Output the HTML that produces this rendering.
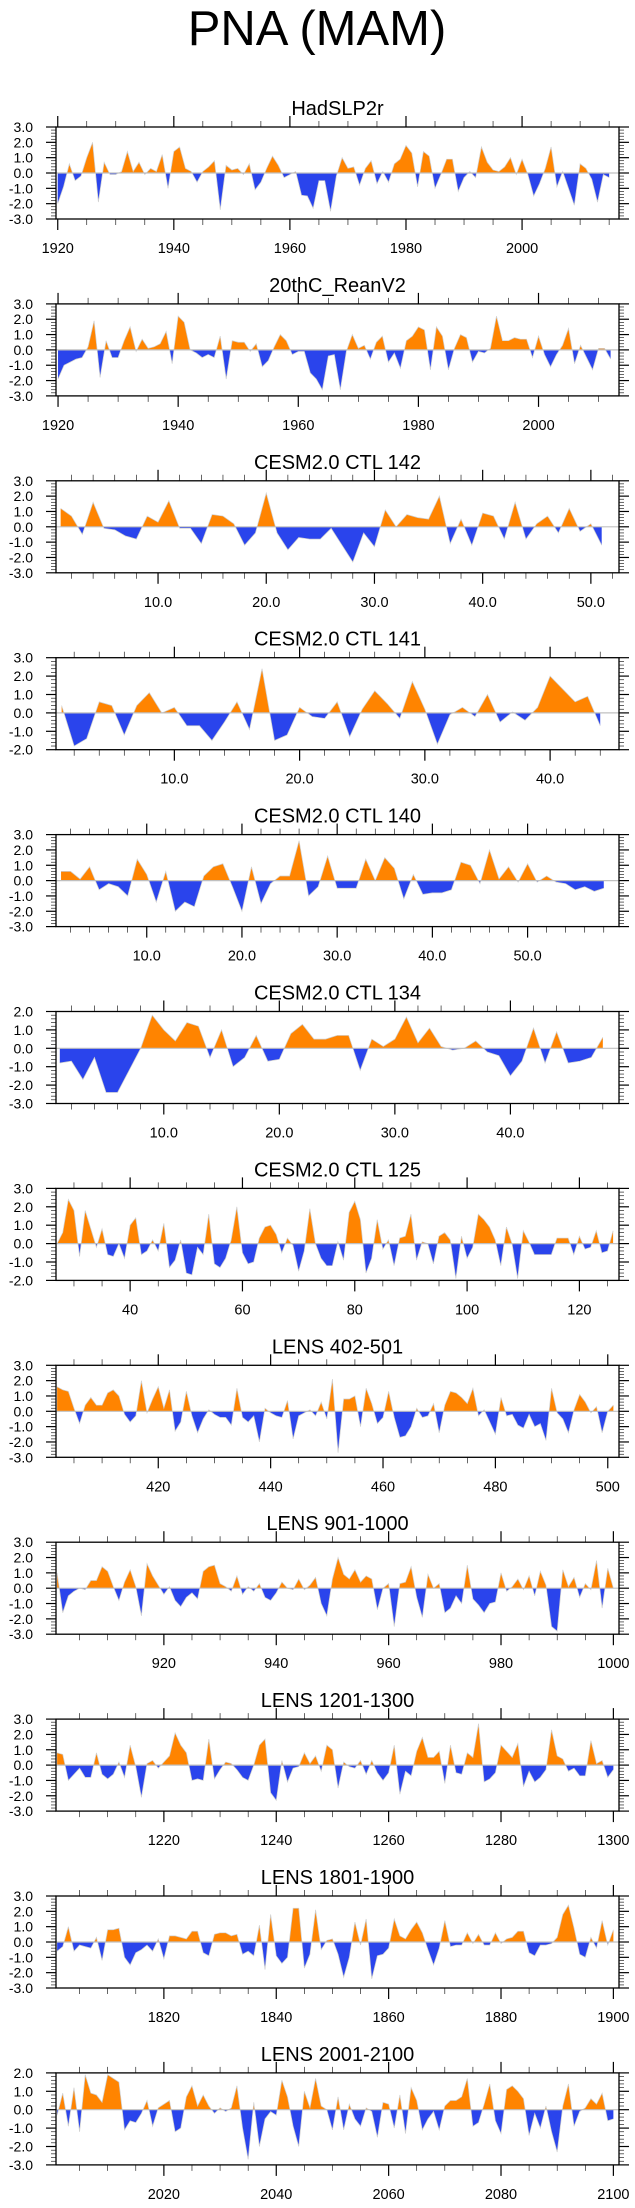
<!DOCTYPE html>
<html><head><meta charset="utf-8"><title>PNA (MAM)</title>
<style>
html,body{margin:0;padding:0;background:#fff;}
svg{display:block;font-family:"Liberation Sans",Arial,sans-serif;}
</style></head>
<body>
<svg id="chart" width="635" height="2208" viewBox="0 0 635 2208" xmlns="http://www.w3.org/2000/svg">
<text x="317" y="45" font-size="49" text-anchor="middle" fill="#000">PNA (MAM)</text>
</svg>
<script>
// ---- data ----
const titles = ["HadSLP2r","20thC_ReanV2","CESM2.0 CTL 142","CESM2.0 CTL 141","CESM2.0 CTL 140","CESM2.0 CTL 134","CESM2.0 CTL 125","LENS 402-501","LENS 901-1000","LENS 1201-1300","LENS 1801-1900","LENS 2001-2100"];
const starts = [1920,1920,1,1,1,1,27,402,901,1201,1801,2001];
const s1 = [-2.0,-0.9,0.6,-0.5,-0.2,1.0,2.0,-1.9,0.7,-0.1,
 -0.1,0.1,1.4,0.1,0.7,-0.1,0.3,0.1,1.2,-1.0,
 1.4,1.7,0.3,0.1,-0.6,0.1,0.4,0.8,-2.4,0.5,
 0.2,0.3,-0.1,0.6,-1.1,-0.6,0.3,1.1,0.5,-0.3,
 -0.1,0.1,-1.45,-1.5,-2.3,-0.5,-0.5,-2.5,-0.2,1.0,
 0.3,0.4,-0.8,0.3,0.8,-0.7,0.1,-0.6,0.6,0.9,
 1.8,1.3,-0.9,1.4,1.1,-1.0,-0.1,0.9,0.9,-1.2,
 -0.3,0.1,-0.3,1.7,0.7,0.2,0.1,0.4,1.0,-0.1,
 0.9,-0.1,-1.5,-0.7,0.3,1.7,-0.9,0.1,-1.0,-2.1,
 0.6,0.3,-0.4,-1.9,-0.1,-0.3];
const s2 = [-1.9,-1.0,-0.8,-0.6,-0.5,0.2,1.9,-1.8,0.6,-0.5,
 -0.5,0.6,1.5,-0.1,0.7,0.1,0.2,0.4,1.2,-0.9,
 2.2,1.8,0.0,-0.2,-0.5,-0.3,-0.5,0.9,-1.9,0.6,
 0.5,0.5,-0.1,0.4,-1.1,-0.7,0.2,1.0,0.6,-0.3,
 -0.1,-0.1,-1.5,-1.9,-2.6,-0.4,-0.3,-2.6,-0.1,1.0,
 0.1,0.3,-0.6,0.5,0.9,-0.8,-0.2,-1.2,0.6,0.9,
 1.5,1.3,-1.3,1.5,0.9,-1.3,0.1,1.0,0.8,-0.8,
 -0.1,-0.2,0.1,2.2,0.6,0.6,0.8,0.7,0.7,-0.5,
 0.9,-0.3,-1.1,-0.3,0.3,1.4,-0.9,0.3,-0.5,-1.3,
 0.1,0.1,-0.6];
const s3 = [1.2,0.7,-0.5,1.6,-0.1,-0.2,-0.6,-0.8,0.7,0.3,
 1.7,-0.1,-0.1,-1.1,0.8,0.7,0.2,-1.2,-0.4,2.2,
 -0.4,-1.5,-0.7,-0.8,-0.8,-0.1,-1.2,-2.3,-0.4,-1.3,
 1.1,0.0,0.8,0.6,0.5,2.0,-1.1,0.5,-1.2,0.9,
 0.7,-0.8,1.6,-0.8,0.2,0.7,-0.4,1.2,-0.3,0.2,-1.2];
const s4 = [0.4,-1.8,-1.4,0.6,0.4,-1.2,0.4,1.1,0.0,0.3,
 -0.7,-0.7,-1.5,-0.5,0.6,-0.9,2.4,-1.5,-1.2,0.3,
 -0.2,-0.3,0.6,-1.3,0.2,1.2,0.5,-0.3,1.7,0.2,
 -1.7,-0.1,0.3,-0.2,1.0,-0.5,0.05,-0.4,0.3,2.0,
 1.3,0.6,0.9,-0.7];
const s5 = [0.6,0.6,0.1,0.9,-0.6,-0.2,-0.4,-1.0,1.4,0.4,
 -1.4,0.6,-2.0,-1.4,-1.7,0.3,0.9,1.1,-0.4,-2.0,
 0.9,-1.5,-0.2,0.3,0.3,2.6,-1.0,-0.4,1.6,-0.5,
 -0.5,-0.5,1.4,0.0,1.5,0.8,-1.2,0.4,-0.9,-0.8,
 -0.8,-0.6,1.2,1.0,-0.2,2.0,0.1,0.9,-0.1,1.1,
 -0.1,0.3,-0.1,-0.2,-0.6,-0.4,-0.7,-0.5];
const s6 = [-0.8,-0.7,-1.7,-0.5,-2.4,-2.4,-1.2,0.0,1.8,1.0,
 0.4,1.4,1.2,-0.5,1.0,-1.0,-0.5,0.7,-0.7,-0.6,
 0.8,1.3,0.5,0.5,0.7,0.7,-1.2,0.5,0.1,0.5,
 1.7,0.3,1.1,0.1,-0.1,0.0,0.4,-0.2,-0.4,-1.5,
 -0.7,1.1,-0.8,0.9,-0.8,-0.7,-0.5,0.6];
const s7 = [0.0,0.6,2.4,1.8,-0.7,1.8,0.8,-0.2,0.8,-0.6,
 -0.7,0.0,-0.8,1.0,1.4,-0.6,-0.4,0.2,-0.4,1.1,
 -1.3,-0.9,0.2,-1.6,-1.7,-0.2,-0.6,1.6,-1.1,-1.3,
 -0.8,0.2,2.0,-0.5,-1.1,-1.0,0.3,0.9,1.0,0.5,
 -0.5,0.3,-0.1,-1.5,-0.4,1.9,0.0,-0.8,-1.2,-1.2,
 0.1,-0.9,1.7,2.3,1.3,-1.6,-0.8,1.3,-0.3,0.2,
 -1.2,0.3,0.4,1.6,-0.9,0.1,0.0,-1.1,0.4,0.6,
 0.2,-1.9,0.4,-0.8,-0.2,1.6,1.3,0.9,0.2,-1.2,
 0.9,0.0,-1.9,0.7,0.1,-0.6,-0.6,-0.6,-0.6,0.3,
 0.3,0.3,-0.6,0.4,-0.3,-0.2,0.7,-0.5,-0.4,0.7];
const s8 = [1.6,1.4,1.3,0.2,-0.8,0.4,0.9,0.4,0.4,1.2,
 1.4,1.0,-0.2,-0.7,-0.3,2.0,-0.1,0.8,1.6,0.2,
 1.4,-1.3,-0.7,1.3,-0.3,-1.4,-0.5,0.1,-0.2,-0.4,
 -0.4,-0.9,1.5,-0.4,-0.7,-0.3,-2.0,0.2,-0.1,-0.3,
 -0.4,0.7,-1.8,-0.3,-0.1,0.1,-0.3,0.6,-0.5,2.1,
 -2.7,0.8,0.8,1.0,-1.0,1.5,0.5,-0.8,-0.4,1.3,
 -0.4,-1.7,-1.6,-1.0,0.2,-0.4,-0.3,0.5,-1.4,0.4,
 1.3,1.2,0.9,0.5,1.5,-0.3,0.1,-0.7,-1.5,0.9,
 -0.3,-0.2,-0.9,-1.1,-0.2,-1.0,-0.8,-1.9,1.5,-0.1,
 -0.5,-1.4,0.1,1.1,0.6,-0.1,0.3,-1.4,0.0,0.4];
const s9 = [1.0,-1.6,-0.5,-0.2,0.0,-0.1,0.5,0.5,1.4,1.1,
 0.1,-0.8,0.4,1.2,0.1,-1.8,1.6,0.8,0.2,-0.4,
 0.1,-0.8,-1.2,-0.6,-0.3,-0.7,1.1,1.4,1.5,0.3,
 0.1,-0.2,0.8,-0.4,0.1,-0.2,0.3,-0.6,-0.8,-0.3,
 0.4,0.0,-0.1,0.6,-0.1,0.2,0.7,-1.0,-1.8,0.6,
 2.0,0.9,0.6,1.2,0.4,0.8,0.6,-1.4,0.0,0.3,
 -2.5,0.3,0.4,1.4,-0.6,-1.9,0.9,0.0,0.3,-1.6,
 -1.3,-0.5,-1.0,1.5,-0.7,-1.1,-1.6,-1.0,-0.9,1.0,
 -0.2,0.1,0.6,-0.1,0.8,-0.5,1.1,0.2,-2.5,-2.8,
 1.2,0.1,0.7,-0.6,0.3,-0.1,1.8,-1.3,1.3,0.0];
const s10 = [0.8,0.7,-1.0,-0.6,-0.2,-0.8,-0.8,0.8,-0.6,-0.9,
 -0.6,0.2,-0.8,1.3,-0.1,-2.1,0.1,0.3,-0.2,0.2,
 0.6,2.1,1.3,0.8,-1.0,-0.9,-1.0,1.7,-0.9,-0.3,
 0.2,0.1,-0.3,-0.8,-1.0,0.0,1.3,1.7,-1.8,-2.3,
 0.3,-1.1,-0.2,-0.1,0.8,0.1,0.6,-0.4,1.3,1.0,
 -1.5,0.2,-0.1,-0.2,0.3,-0.6,0.3,-0.5,-1.0,-0.5,
 1.3,-1.9,-0.4,-0.7,0.9,1.8,0.5,0.5,0.9,-1.2,
 1.3,-0.5,-0.6,0.8,0.5,2.7,-1.1,-0.9,-0.5,1.3,
 0.9,0.5,1.4,-1.4,-0.4,-1.1,-0.8,-0.3,2.3,0.6,
 0.4,-0.4,-0.2,-0.7,-0.7,1.6,0.1,0.3,-0.8,-0.3];
const s11 = [-0.6,-0.3,1.0,-0.6,-0.2,-0.3,-0.4,0.3,-1.2,0.8,
 0.8,0.9,-1.0,-1.5,-0.7,-0.5,-0.2,-0.6,0.2,-1.1,
 0.4,0.4,0.3,0.2,0.7,0.7,-0.7,-0.9,0.5,0.6,
 0.6,0.4,0.5,-0.8,-0.6,-0.9,1.1,-1.8,1.8,-0.9,
 -1.4,-1.0,2.2,2.2,-1.7,-0.8,2.1,-0.5,0.1,0.2,
 -0.8,-2.3,-1.0,1.3,-0.2,1.5,-2.4,-0.9,-0.8,-0.4,
 1.5,0.4,0.2,0.8,1.3,0.6,-0.5,-1.5,-0.4,1.4,
 -0.3,-0.2,-0.2,0.6,-0.1,0.5,-0.2,-0.2,0.6,-0.1,
 0.2,0.3,0.7,0.7,-0.7,-0.9,-0.2,-0.2,-0.1,0.3,
 1.8,2.4,0.9,-0.8,-1.0,0.3,-0.4,1.4,-0.2,0.8];
const s12 = [-0.3,0.9,-0.9,1.2,-1.2,1.9,0.9,0.8,0.4,1.9,
 1.7,1.5,-1.1,-0.6,-0.7,-0.2,0.5,-0.9,0.1,0.3,
 0.5,-1.2,-1.0,0.7,1.3,0.2,0.8,0.2,-0.2,0.1,
 -0.1,0.1,1.3,-1.0,-2.7,0.4,-2.0,-0.5,-0.1,-0.3,
 1.6,0.7,-0.9,-2.0,1.0,0.1,1.7,0.2,0.0,-1.1,
 0.7,-1.1,0.3,-0.5,-0.9,0.1,-0.1,-1.5,0.4,0.3,
 -1.0,0.8,-1.3,1.2,0.5,-1.1,-0.5,-0.1,-1.1,0.2,
 0.5,0.5,0.7,1.7,-0.9,-0.7,0.3,1.4,-0.6,-1.3,
 1.1,1.3,1.0,0.6,-1.4,-0.2,-1.0,0.2,-1.2,-2.3,
 0.2,1.4,-0.9,-0.1,0.1,0.6,0.3,0.9,-0.6,-0.5];
const series = [s1,s2,s3,s4,s5,s6,s7,s8,s9,s10,s11,s12];
const xMins = [1919.7,1919.66,0.57,0.55,0.47,0.67,26.8,401.8,900.8,1200.8,1800.8,2000.8];
const xMaxs = [2016.7,2013.4,52.6,45.5,59.6,49.4,127.05,502,1001,1301,1901,2101];
const yMins = [-3,-3,-3,-2,-3,-3,-2,-3,-3,-3,-3,-3];
const yMaxs = [3,3,3,3,3,2,3,3,3,3,3,2];
const xMajors = [20,20,10,10,10,10,20,20,20,20,20,20];
const xMinors = [5,5,2,2,2,2,5,5,5,5,5,5];
const xDecimals = [0,0,1,1,1,1,0,0,0,0,0,0];

// ---- layout ----
const NS = "http://www.w3.org/2000/svg";
const svg = document.getElementById("chart");
const L = 56, R = 619, H = 92, TOP0 = 127, STEP = 176.9;
const ORANGE = "#ff8400", BLUE = "#2a44ec";
function mk(tag, attrs, parent) {
  const e = document.createElementNS(NS, tag);
  for (const k in attrs) e.setAttribute(k, attrs[k]);
  (parent || svg).appendChild(e);
  return e;
}
for (let p = 0; p < series.length; p++) {
  const top = TOP0 + p * STEP, bot = top + H;
  const x0 = xMins[p], x1 = xMaxs[p], y0 = yMins[p], y1 = yMaxs[p];
  const sx = v => L + (v - x0) / (x1 - x0) * (R - L);
  const sy = v => bot - (v - y0) / (y1 - y0) * H;
  const g = mk("g", {});
  
  
  const t = mk("text", {x: (L + R) / 2, y: top - 12, "font-size": 20, "text-anchor": "middle", fill: "#000"}, g);
  
  
  t.textContent = titles[p];
  // points with zero crossings
  const vals = series[p], st = starts[p];
  const pts = [];
  for (let i = 0; i < vals.length; i++) {
    const xv = st + i, v = vals[i];
    if (i > 0) {
      const pv = vals[i - 1];
      if ((pv > 0 && v < 0) || (pv < 0 && v > 0)) {
        const f = pv / (pv - v);
        pts.push([xv - 1 + f, 0]);
      }
    }
    pts.push([xv, v]);
  }
  const first = pts[0][0], last = pts[pts.length - 1][0];
  let pos = "M" + sx(first) + "," + sy(0), neg = pos;
  for (const q of pts) {
    pos += " L" + sx(q[0]).toFixed(2) + "," + sy(Math.max(q[1], 0)).toFixed(2);
    neg += " L" + sx(q[0]).toFixed(2) + "," + sy(Math.min(q[1], 0)).toFixed(2);
  }
  pos += " L" + sx(last) + "," + sy(0) + " Z";
  neg += " L" + sx(last) + "," + sy(0) + " Z";
  const ap = mk("path", {d: pos, fill: ORANGE}, g);
  
  
  const an = mk("path", {d: neg, fill: BLUE}, g);
  
  
  const line = mk("polyline", {points: pts.map(q => sx(q[0]).toFixed(2) + "," + sy(q[1]).toFixed(2)).join(" "), fill: "none", stroke: "#cfcfcf", "stroke-width": 0.7}, g);
  
  
  const zl = mk("line", {x1: L, x2: R, y1: sy(0), y2: sy(0), stroke: "#c0c0c0", "stroke-width": 1.2}, g);
  
  
  const box = mk("rect", {x: L, y: top, width: R - L, height: H, fill: "none", stroke: "#000", "stroke-width": 1.3}, g);
  
  
  // y ticks
  for (let k = Math.round(y0 * 5); k <= Math.round(y1 * 5); k++) {
    const v = k / 5, y = sy(v), major = (k % 5 === 0), len = major ? 10 : 5;
    mk("line", {x1: L - len, x2: L, y1: y, y2: y, stroke: "#000", "stroke-width": major ? 1.2 : 0.6}, g);
    mk("line", {x1: R, x2: R + len, y1: y, y2: y, stroke: "#000", "stroke-width": major ? 1.2 : 0.6}, g);
    if (major) {
      const yl = mk("text", {x: 33, y: y + 5, "font-size": 14, "text-anchor": "end", fill: "#000"}, g);
      
      
      yl.textContent = v.toFixed(1);
    }
  }
  // x ticks
  const mn = xMinors[p], mj = xMajors[p];
  for (let v = Math.ceil(x0 / mn) * mn; v <= x1; v += mn) {
    const x = sx(v), major = (Math.abs(v % mj) < 1e-6), len = major ? 11 : 6;
    mk("line", {x1: x, x2: x, y1: bot, y2: bot + len, stroke: "#000", "stroke-width": major ? 1.2 : 0.6}, g);
    mk("line", {x1: x, x2: x, y1: top - len, y2: top, stroke: "#000", "stroke-width": major ? 1.2 : 0.6}, g);
    if (major) {
      const xl = mk("text", {x: x, y: bot + 34, "font-size": 14.5, "text-anchor": "middle", fill: "#000"}, g);
      
      
      xl.textContent = v.toFixed(xDecimals[p]);
    }
  }
}
</script>
</body></html>
